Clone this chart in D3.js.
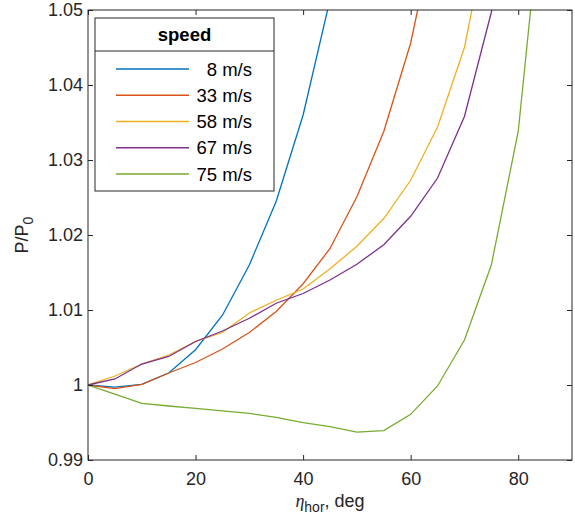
<!DOCTYPE html>
<html><head><meta charset="utf-8">
<script src="https://cdn.jsdelivr.net/npm/d3@7"></script>
<style>body{margin:0;background:#fff;} svg{display:block;font-family:"Liberation Sans",Arial,sans-serif;}</style>
</head><body>
<svg id="c" width="575" height="522"></svg>
<script>
const angles = [0,5,10,15,20,25,30,35,40,45,50,55,60,65,70,75,80,85];
const speeds = ["8 m/s","33 m/s","58 m/s","67 m/s","75 m/s"];
const s8  = [1.0000,0.99973,1.00009,1.0016,1.0047,1.0093,1.0160,1.0245,1.0360,1.0514];
const s33 = [1.0000,0.99952,1.00009,1.0016,1.0030,1.0048,1.0070,1.0098,1.0135,1.0182,1.0251,1.0338,1.0456,1.0625];
const s58 = [1.0000,1.0012,1.0028,1.0040,1.0058,1.0070,1.0096,1.0113,1.0128,1.0155,1.0185,1.0222,1.0273,1.0344,1.0450,1.0630];
const s67 = [1.0000,1.0008,1.0028,1.0038,1.0058,1.0072,1.0089,1.0109,1.0122,1.0140,1.0161,1.0187,1.0225,1.0276,1.0358,1.0497,1.0660];
const s75 = [1.0000,0.99878,0.99756,0.9972,0.99689,0.99655,0.99622,0.99569,0.99498,0.99444,0.99373,0.99391,0.99609,0.99987,1.0060,1.0160,1.0338,1.0690];
const seriesList = [s8,s33,s58,s67,s75];
const colors = ["#0072BD","#D95319","#EDB120","#7E2F8E","#77AC30"];
const xTicks = [0,20,40,60,80];
const yTicks = [0.99,1.00,1.01,1.02,1.03,1.04,1.05];
const yTickLabels = ["0.99","1","1.01","1.02","1.03","1.04","1.05"];

const svg = d3.select("#c");
const L=88,R=572,T=10,B=460;
const x = d3.scaleLinear().domain([0,90]).range([L,R]);
const y = d3.scaleLinear().domain([0.99,1.05]).range([B,T]);
const ax = "#262626";

svg.append("defs").append("clipPath").attr("id","pc").append("rect")
  .attr("x",L).attr("y",T).attr("width",R-L).attr("height",B-T);

const line = d3.line().x(d=>x(d[0])).y(d=>y(d[1]));
const g = svg.append("g").attr("clip-path","url(#pc)");
seriesList.forEach((s,i)=>{
  g.append("path").datum(s.map((v,j)=>[angles[j],v]))
   .attr("d",line).attr("fill","none").attr("stroke",colors[i]).attr("stroke-width",1.3);
});

// axes
const fs = 18;
const axBottom = d3.axisBottom(x).tickValues(xTicks).tickSize(-5).tickPadding(12).tickFormat(d3.format("d"));
const axTop = d3.axisTop(x).tickValues(xTicks).tickSize(-5).tickFormat("");
const axLeft = d3.axisLeft(y).tickValues(yTicks).tickSize(-5).tickPadding(5).tickFormat((d,i)=>yTickLabels[i]);
const axRight = d3.axisRight(y).tickValues(yTicks).tickSize(-5).tickFormat("");
function style(sel){
  sel.selectAll("path.domain").remove();
  sel.selectAll(".tick line").attr("stroke",ax).attr("stroke-width",1);
  sel.selectAll(".tick text").attr("fill",ax).style("font-size",fs+"px").style("font-family","'Liberation Sans',Arial,sans-serif");
}
svg.append("g").attr("transform",`translate(0,${B})`).call(axBottom).call(style);
svg.append("g").attr("transform",`translate(0,${T})`).call(axTop).call(style);
svg.append("g").attr("transform",`translate(${L},0)`).call(axLeft).call(style);
svg.append("g").attr("transform",`translate(${R},0)`).call(axRight).call(style);
svg.append("rect").attr("x",L).attr("y",T).attr("width",R-L).attr("height",B-T)
  .attr("fill","none").attr("stroke",ax).attr("stroke-width",1);

// axis labels
const xl = svg.append("text").attr("x",(L+R)/2).attr("y",507).attr("text-anchor","middle")
  .attr("fill",ax).style("font-size",fs+"px");
xl.append("tspan").text("η").style("font-style","italic").style("font-family","'Liberation Serif','DejaVu Serif',serif");
xl.append("tspan").text("hor").attr("dy",5).style("font-size","14px");
xl.append("tspan").text(", deg").attr("dy",-5);

const yl = svg.append("text").attr("transform",`translate(28,${(T+B)/2}) rotate(-90)`)
  .attr("text-anchor","middle").attr("fill",ax).style("font-size",fs+"px");
yl.append("tspan").text("P/P");
yl.append("tspan").text("0").attr("dy",5).style("font-size","14px");

// legend
const lx=95, ly=18, lw=179, lh=173, ldiv=51;
const lfs = 18.5;
const lg = svg.append("g");
lg.append("rect").attr("x",lx).attr("y",ly).attr("width",lw).attr("height",lh)
  .attr("fill","#fff").attr("stroke",ax).attr("stroke-width",1);
lg.append("line").attr("x1",lx).attr("x2",lx+lw).attr("y1",ldiv).attr("y2",ldiv).attr("stroke",ax).attr("stroke-width",1);
lg.append("text").attr("x",lx+lw/2).attr("y",41).attr("text-anchor","middle")
  .style("font-size",lfs+"px").style("font-weight","bold").attr("fill","#000").text("speed");
const ey = d3.scalePoint().domain(speeds).range([69,174]);
speeds.forEach((s,i)=>{
  lg.append("line").attr("x1",116).attr("x2",189).attr("y1",ey(s)).attr("y2",ey(s))
    .attr("stroke",colors[i]).attr("stroke-width",1.3);
  lg.append("text").attr("x",252).attr("y",ey(s)+6.5).attr("text-anchor","end")
    .style("font-size",lfs+"px").attr("fill","#000").text(s);
});
</script>
</body></html>
